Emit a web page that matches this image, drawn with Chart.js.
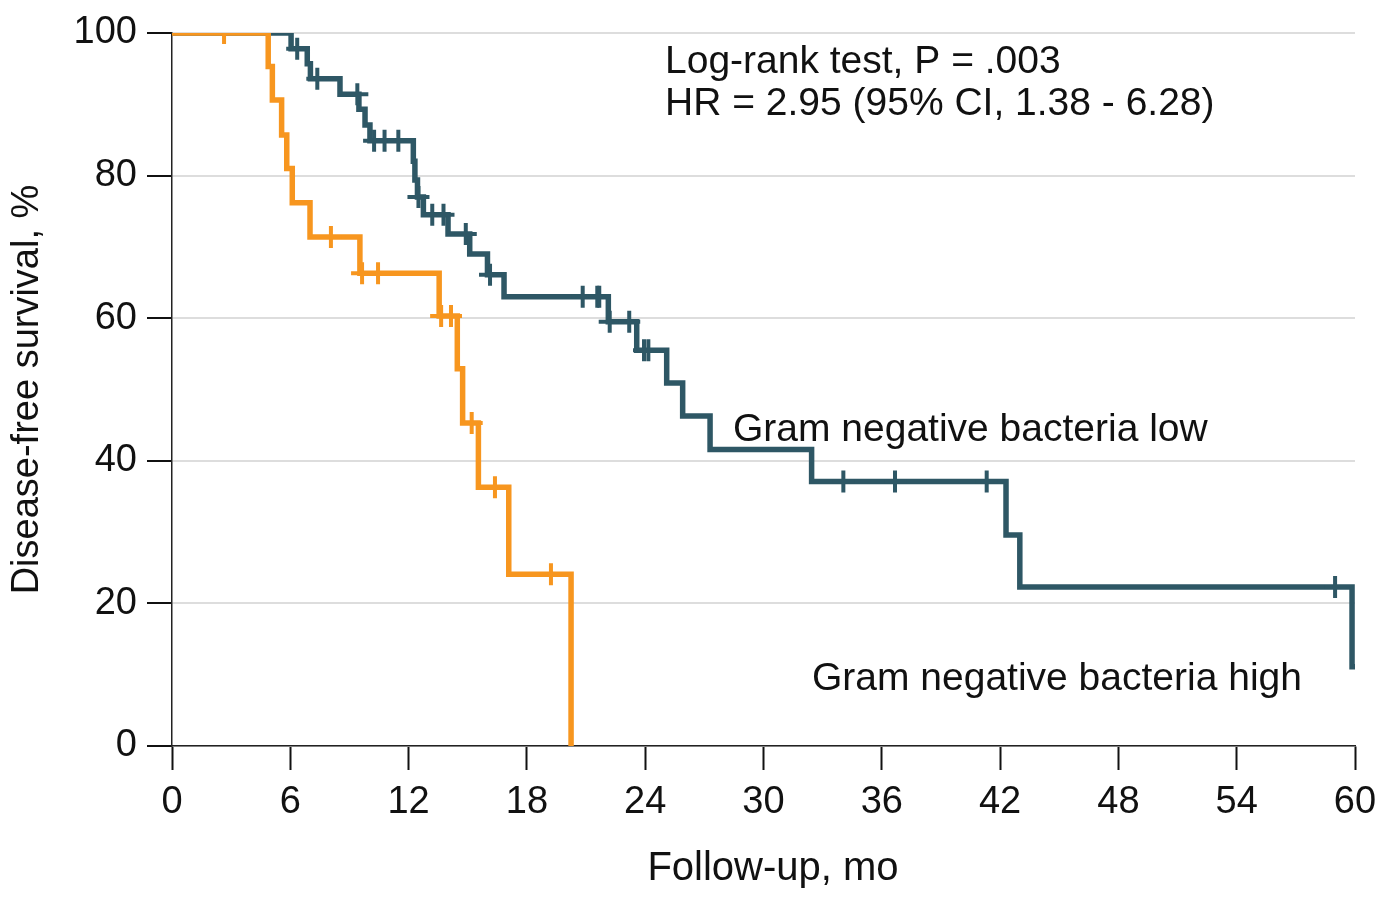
<!DOCTYPE html>
<html>
<head>
<meta charset="utf-8">
<script src="https://cdn.jsdelivr.net/npm/chart.js"></script>
<style>
  body{margin:0;background:#fff}
  canvas{display:block}
</style>
</head>
<body>
<canvas id="km" width="1384" height="901"></canvas>
<script>
// ================= DATA =================
// Gram negative bacteria high (orange)
const highTimes = [0, 4.88, 5.09, 5.56, 5.82, 6.10, 7.00, 9.53, 13.55, 14.47, 14.74, 15.54, 17.08, 20.24];
const highSurv  = [100, 95.3, 90.6, 85.7, 81.0, 76.2, 71.4, 66.3, 60.3, 52.9, 45.3, 36.3, 24.1, 0];
const highCensor = [2.64, 8.06, 9.64, 10.45, 13.65, 14.15, 15.2, 16.38, 19.22];

// Gram negative bacteria low (teal)
const lowTimes = [0, 6.04, 6.86, 7.02, 8.52, 9.48, 9.79, 10.04, 12.24, 12.32, 12.45, 12.75, 14.0, 15.1, 16.0, 16.84,
                  22.13, 23.57, 25.09, 25.9, 27.29, 32.44, 42.3, 43.0, 59.85, 60];
const lowSurv  = [100, 97.8, 95.7, 93.6, 91.4, 89.3, 87.1, 84.9, 82.0, 79.4, 77.0, 74.5, 71.8, 69.0, 66.1, 63.0,
                  59.5, 55.5, 50.9, 46.3, 41.6, 37.1, 29.6, 22.3, 11.1, 11.1];
const lowCensor = [6.35, 7.37, 9.4, 10.25, 10.78, 11.48, 12.5, 13.2, 13.77, 14.9, 16.13, 20.83, 21.57, 21.67,
                   22.2, 23.19, 23.94, 24.16, 34.05, 36.67, 41.32, 58.99];

const xTicks = [0, 6, 12, 18, 24, 30, 36, 42, 48, 54, 60];
const yTicks = [0, 20, 40, 60, 80, 100];

const ORANGE = "#F7961F";
const TEAL = "#2E5765";

// survival value at time t (step lookup)
function survAt(times, surv, t) {
  let v = surv[0];
  for (let i = 0; i < times.length; i++) if (times[i] <= t) v = surv[i];
  return v;
}
const toPts = (ts, vs) => ts.map((t, i) => ({x: t, y: vs[i]}));
const censorPts = (cs, ts, vs) => cs.map(t => ({x: t, y: survAt(ts, vs, t)}));

// ================= TEXT PLUGIN =================
const labels = {
  id: "labels",
  afterDraw(chart) {
    const c = chart.ctx;
    c.save();
    c.fillStyle = "#111";
    c.font = "39px 'Liberation Sans', Arial, sans-serif";
    c.textBaseline = "alphabetic";
    c.textAlign = "left";
    c.fillText("Log-rank test, P = .003", 665, 73);
    c.fillText("HR = 2.95 (95% CI, 1.38 - 6.28)", 665, 115);
    c.fillText("Gram negative bacteria low", 733, 441);
    c.fillText("Gram negative bacteria high", 812, 690);
    c.textAlign = "center";
    c.font = "40px 'Liberation Sans', Arial, sans-serif";
    c.fillText("Follow-up, mo", 773, 880);
    c.restore();
  }
};

Chart.defaults.font.family = "'Liberation Sans', Arial, sans-serif";
Chart.defaults.color = "#111";

new Chart(document.getElementById("km"), {
  type: "scatter",
  data: {
    datasets: [
      {data: censorPts(highCensor, highTimes, highSurv), pointStyle: "cross", pointRadius: 11,
       borderColor: ORANGE, borderWidth: 4, showLine: false, order: 0},
      {data: toPts(highTimes, highSurv), showLine: true, stepped: "before", borderColor: ORANGE,
       borderWidth: 5.5, pointRadius: 0, order: 1},
      {data: censorPts(lowCensor, lowTimes, lowSurv), pointStyle: "cross", pointRadius: 11,
       borderColor: TEAL, borderWidth: 4, showLine: false, order: 2},
      {data: toPts(lowTimes, lowSurv), showLine: true, stepped: "before", borderColor: TEAL,
       borderWidth: 5.5, pointRadius: 0, order: 3}
    ]
  },
  options: {
    responsive: false,
    animation: false,
    layout: {padding: {left: 0, right: 29, top: 33, bottom: 0}},
    plugins: {legend: {display: false}, tooltip: {enabled: false}},
    scales: {
      x: {
        type: "linear", min: 0, max: 60,
        afterFit: s => { s.height = 155; s.paddingLeft = 0; s.paddingRight = 0; },
        afterBuildTicks: s => { s.ticks = xTicks.map(v => ({value: v})); },
        ticks: {font: {size: 38}, padding: 10, color: "#111"},
        grid: {drawOnChartArea: false, tickLength: 24, tickColor: "#111", tickWidth: 2},
        border: {color: "#222", width: 1.5}
      },
      y: {
        type: "linear", min: 0, max: 100,
        afterFit: s => { s.width = 172; s.paddingTop = 0; s.paddingBottom = 0; },
        afterBuildTicks: s => { s.ticks = yTicks.map(v => ({value: v})); },
        ticks: {font: {size: 38}, padding: 10, color: "#111"},
        grid: {color: "#dddddd", lineWidth: 2, tickLength: 25, tickColor: "#111", tickWidth: 2},
        border: {color: "#222", width: 1.5},
        title: {display: true, text: "Disease-free survival, %", font: {size: 38}, color: "#111",
                padding: {top: 5, bottom: 0}}
      }
    }
  },
  plugins: [labels]
});
</script>
</body>
</html>
